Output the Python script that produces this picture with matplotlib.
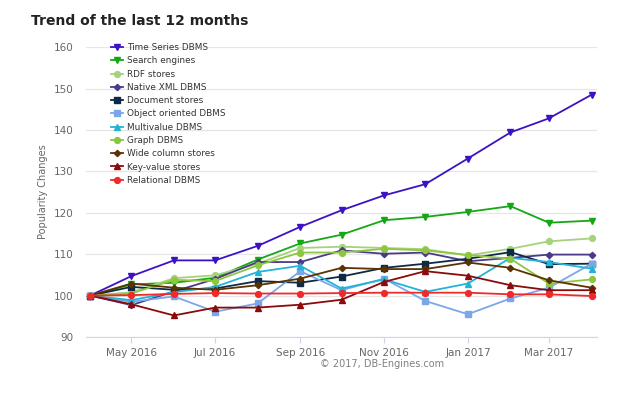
import matplotlib.pyplot as plt
import matplotlib.dates as mdates
from datetime import date

months = [date(2016, m, 1) for m in range(4, 13)] + [date(2017, m, 1) for m in range(1, 5)]

time_series = [100, 104.7, 108.5, 108.5, 112.0, 116.6, 120.6, 124.2, 126.9, 133.1, 139.4, 142.8, 148.5]
search_engines = [100, 102.7, 103.1, 104.3, 108.7, 112.6, 114.7, 118.2, 119.0, 120.2, 121.6, 117.6, 118.1]
rdf_stores = [100, 100.8, 104.2, 104.9, 107.7, 111.5, 111.8, 111.5, 111.2, 109.7, 111.3, 113.1, 113.8]
native_xml = [100, 97.7, 101.0, 104.0, 108.1, 108.1, 110.9, 110.1, 110.4, 108.3, 109.1, 109.9, 109.9]
document_stores = [100, 102.1, 101.4, 101.7, 103.5, 103.1, 104.6, 106.7, 107.7, 108.9, 110.5, 107.6, 107.7]
object_oriented = [100, 98.5, 99.8, 96.1, 98.1, 105.9, 101.3, 104.1, 98.7, 95.5, 99.3, 101.9, 107.7]
multivalue = [100, 98.9, 100.8, 102.1, 105.7, 107.2, 101.7, 103.9, 100.9, 102.9, 109.1, 108.1, 106.5]
graph_dbms = [100, 100.5, 103.8, 103.5, 107.3, 110.4, 110.4, 111.3, 110.9, 109.8, 108.9, 102.9, 103.9]
wide_column = [100, 102.9, 101.9, 101.4, 102.5, 104.1, 106.7, 106.4, 106.4, 108.0, 106.7, 103.7, 101.9]
key_value = [100, 97.9, 95.2, 97.1, 97.1, 97.8, 99.0, 103.3, 105.9, 104.8, 102.5, 101.3, 101.3]
relational = [100, 100.1, 100.4, 100.6, 100.5, 100.5, 100.6, 100.7, 100.7, 100.7, 100.3, 100.3, 99.9]

series = [
    ("Time Series DBMS", time_series, "#3d12c4", "v"),
    ("Search engines", search_engines, "#14a814", "v"),
    ("RDF stores", rdf_stores, "#a6d27c", "o"),
    ("Native XML DBMS", native_xml, "#4b3a8a", "D"),
    ("Document stores", document_stores, "#0f2a45", "s"),
    ("Object oriented DBMS", object_oriented, "#7ba7e8", "s"),
    ("Multivalue DBMS", multivalue, "#22b4d8", "^"),
    ("Graph DBMS", graph_dbms, "#8dc63f", "o"),
    ("Wide column stores", wide_column, "#5a3300", "D"),
    ("Key-value stores", key_value, "#8b0a0a", "^"),
    ("Relational DBMS", relational, "#f02a2a", "o"),
]

fig = plt.figure(figsize=(6.25, 3.96), dpi=100)
ax = fig.add_axes([0.1376, 0.149, 0.8176, 0.732])

for name, vals, col, mk in series:
    ms = 3.2 if mk == "D" else 4.2
    ax.plot(months, vals, color=col, marker=mk, markersize=ms, linewidth=1.3, label=name)

ax.set_ylim(90, 160)
ax.set_yticks(range(90, 161, 10))
ax.set_xlim(date(2016, 3, 29), date(2017, 4, 5))
ax.xaxis.set_major_locator(mdates.MonthLocator(bymonth=[1, 3, 5, 7, 9, 11]))
ax.xaxis.set_major_formatter(mdates.DateFormatter("%b %Y"))

ax.grid(axis="y", color="#e6e6e6", linewidth=0.9)
ax.set_axisbelow(True)
for s in ["top", "right", "left"]:
    ax.spines[s].set_visible(False)
ax.spines["bottom"].set_color("#ccd6eb")
ax.tick_params(axis="y", length=0, labelsize=7.5, labelcolor="#666666", pad=9)
ax.tick_params(axis="x", length=4, color="#ccd6eb", labelsize=7.5, labelcolor="#666666", pad=4)
ax.set_ylabel("Popularity Changes", fontsize=7, color="#666666", labelpad=4)

leg = ax.legend(loc="upper left", bbox_to_anchor=(0.172, 0.9), bbox_transform=fig.transFigure,
                frameon=False, fontsize=6.4, labelspacing=0.48, handlelength=1.3,
                handletextpad=0.5, borderaxespad=0)
for t in leg.get_texts():
    t.set_color("#333333")

fig.text(0.05, 0.947, "Trend of the last 12 months", fontsize=10, fontweight="bold",
         color="#222222", va="center")
fig.text(0.611, 0.081, "\u00a9 2017, DB-Engines.com", fontsize=7, color="#808080", ha="center", va="center")

fig.savefig("out.png", dpi=100)
